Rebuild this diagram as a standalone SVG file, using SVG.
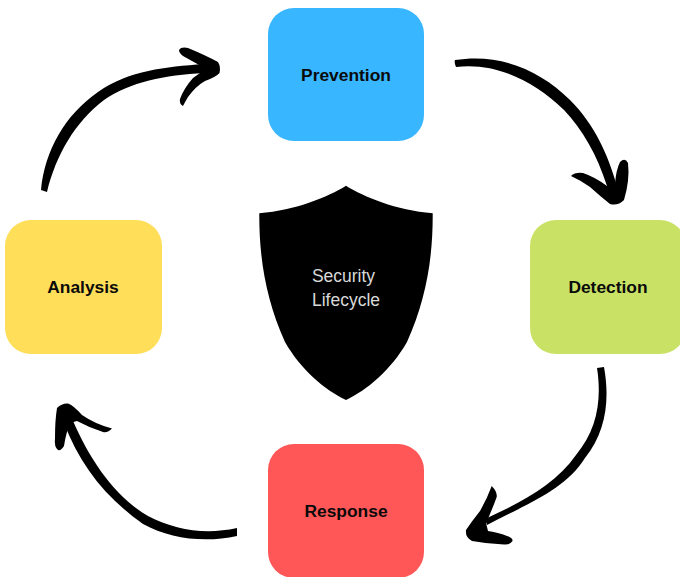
<svg xmlns="http://www.w3.org/2000/svg" width="680" height="577" viewBox="0 0 680 577">
<style>
.node{stroke:none}
.lbl{font-family:"Liberation Sans",Arial,sans-serif;font-weight:700;font-size:17.400px;fill:#0a0a0a;text-anchor:middle}
.sh{font-family:"Liberation Sans",Arial,sans-serif;font-size:17.500px;fill:#d9d9d9;text-anchor:middle}
.arrow{fill:#000;stroke:none}
</style>
<rect width="680" height="577" fill="#fff"/>
<g id="connectors">
<g id="arrow-prevention-detection" class="arrow">
<path d="M455 60C500 53 540 70 570 100C595 125 608 155 617 186L607 186C597 155 583 130 564 110C535 82 497 62 456 67Q454 63 455 60Z"/>
<path d="M571 176Q575 172 583 173Q595 177 607 186L615 184Q616 170 620 162Q625 157 628 163Q630 180 624 200Q618 206 610 204Q600 196 590 187Q580 180 571 176Z"/>
</g>
<g id="arrow-detection-response" class="arrow">
<path d="M597 368L604 367C610 400 606 432 585 458C565 490 525 505 487 525L485 519C520 503 555 485 576 455C597 430 602 400 597 368Z"/>
<path d="M491.700 486Q497.500 492 496.700 497Q492 510 486 523L488 531Q500 533 507 536Q513 538 512.500 541Q510 545 504 544.500Q488 544 472 541Q465 537 466 530Q472 521 480 511Q487 499 491.700 486Z"/>
</g>
<g id="arrow-response-analysis" class="arrow">
<path d="M237 528C205 535 175 530 148 516C115 497 90 460 73 421L64 423C80 465 105 497 143 524C170 539 205 543 237 536Z"/>
<path d="M112 428.500Q108 433 103 432Q90 428 77 421L70 423Q66 433 64 446Q61 451 58 450Q54 447 55 438Q55 420 57 408Q62 403 68 403.500Q73 405 82 415Q95 424 112 428.500Z"/>
</g>
<g id="arrow-analysis-prevention" class="arrow">
<path d="M41 190C45 150 65 115 98 92C130 70 165 67 204 64L204 73C165 75 130 82 104 100C75 122 56 155 47 192Z"/>
<path d="M179 50Q181 46.500 188 48Q205 55 218 62Q221 67 219.500 73Q216 77 205 81Q196 86 188 97Q185 102 183 106Q179 104 180 99Q184 88 193 78L200 73L201 66Q192 61 183 56Q179 53 179 50Z"/>
</g>
</g>
<g id="prevention"><rect class="node" x="268" y="8" width="156" height="133" rx="26" fill="#38b6ff"/><text class="lbl" x="346" y="80.500">Prevention</text></g>
<g id="detection"><rect class="node" x="530" y="220" width="156" height="134" rx="26" fill="#c9e265"/><text class="lbl" x="608" y="293">Detection</text></g>
<g id="response"><rect class="node" x="268" y="444" width="156" height="134" rx="26" fill="#ff5757"/><text class="lbl" x="346" y="517">Response</text></g>
<g id="analysis"><rect class="node" x="5" y="220" width="157" height="134" rx="26" fill="#ffde59"/><text class="lbl" x="83" y="293">Analysis</text></g>
<g id="shield">
<path d="M346 185.700C328 197 296 210 259.300 213.300C259 258 266 300 285 342C301 370 325 390 346 400C367 390 391 370 407 342C426 300 433 258 432.700 213.300C396 210 364 197 346 185.700Z" fill="#000"/>
<text class="sh" x="343.500" y="281.500">Security</text>
<text class="sh" x="346" y="305.500">Lifecycle</text>
</g>
</svg>
